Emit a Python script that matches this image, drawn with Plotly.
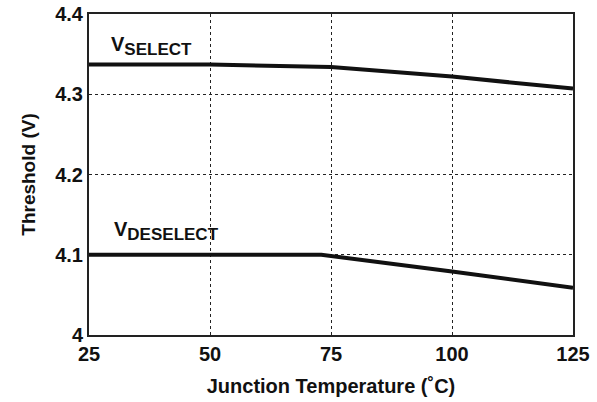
import plotly.graph_objects as go

temp_select = [25, 50, 75, 100, 125]
v_select = [4.337, 4.337, 4.334, 4.322, 4.307]
temp_deselect = [25, 50, 73, 100, 125]
v_deselect = [4.1, 4.1, 4.1, 4.079, 4.059]

x_ticks = [25, 50, 75, 100, 125]
y_ticks = [4.0, 4.1, 4.2, 4.3, 4.4]
y_ticklabels = ["4", "4.1", "4.2", "4.3", "4.4"]

font = "Liberation Sans, Arial, sans-serif"

fig = go.Figure()
fig.add_trace(go.Scatter(x=temp_select, y=v_select, mode="lines",
                         line=dict(color="#111111", width=4), showlegend=False))
fig.add_trace(go.Scatter(x=temp_deselect, y=v_deselect, mode="lines",
                         line=dict(color="#111111", width=4), showlegend=False))

fig.add_annotation(x=29.2, y=4.36, text="<b>V<sub><span style='font-size:17px'>SELECT</span></sub></b>",
                   showarrow=False, xanchor="left", yanchor="middle",
                   font=dict(size=20, color="#111111", family=font))
fig.add_annotation(x=29.8, y=4.13, text="<b>V<sub><span style='font-size:17px'>DESELECT</span></sub></b>",
                   showarrow=False, xanchor="left", yanchor="middle",
                   font=dict(size=20, color="#111111", family=font))

fig.update_layout(
    width=597, height=402,
    margin=dict(l=89, r=24, t=14, b=67),
    paper_bgcolor="white", plot_bgcolor="white",
    font=dict(family=font, color="#111111"),
)
fig.update_xaxes(range=[25, 125], tickvals=x_ticks, ticktext=[str(v) for v in x_ticks],
                 showgrid=True, gridcolor="#222222", griddash="dot", gridwidth=1,
                 showline=True, linecolor="#222222", linewidth=2, mirror=True,
                 ticks="", zeroline=False, automargin=False,
                 tickfont=dict(size=20, family=font, weight="bold"),
                 title=dict(text="<b>Junction Temperature (˚C)</b>", font=dict(size=20, family=font)))
fig.update_yaxes(range=[4.0, 4.4], tickvals=y_ticks, ticktext=y_ticklabels,
                 showgrid=True, gridcolor="#222222", griddash="dot", gridwidth=1,
                 showline=True, linecolor="#222222", linewidth=2, mirror=True,
                 ticks="", zeroline=False, automargin=False,
                 tickfont=dict(size=20, family=font, weight="bold"),
                 title=dict(text="<b>Threshold (V)</b>", font=dict(size=19, family=font)))

fig.write_html("out.html", config={"displayModeBar": False},
               post_script="document.body.style.margin='0px';document.body.style.padding='0px';")
